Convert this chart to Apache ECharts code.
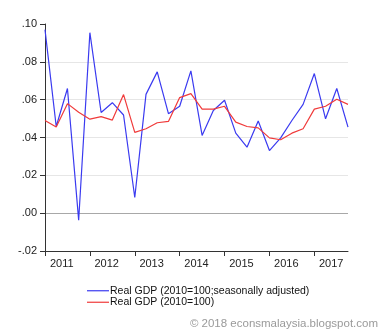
<!DOCTYPE html>
<html>
<head>
<meta charset="utf-8">
<script src="https://cdn.jsdelivr.net/npm/echarts@6/dist/echarts.min.js"></script>
<style>
html,body{margin:0;padding:0;background:#fff;}
#c{width:380px;height:332px;}
</style>
</head>
<body>
<div id="c"></div>
<script>
const quarters = ['2011Q1','2011Q2','2011Q3','2011Q4','2012Q1','2012Q2','2012Q3','2012Q4',
  '2013Q1','2013Q2','2013Q3','2013Q4','2014Q1','2014Q2','2014Q3','2014Q4',
  '2015Q1','2015Q2','2015Q3','2015Q4','2016Q1','2016Q2','2016Q3','2016Q4',
  '2017Q1','2017Q2','2017Q3','2017Q4'];
const years = ['2011','2012','2013','2014','2015','2016','2017'];
const seasAdj = [0.097, 0.0458, 0.0659, -0.0037, 0.0954, 0.0532, 0.0584, 0.0519,
  0.0083, 0.0628, 0.0747, 0.0526, 0.0565, 0.0752, 0.0411, 0.0543,
  0.0597, 0.0423, 0.0349, 0.0487, 0.0331, 0.0398, 0.0490, 0.0575,
  0.0738, 0.0499, 0.0659, 0.0455];
const realGdp = [0.049, 0.0455, 0.0579, 0.0534, 0.0497, 0.0510, 0.0492, 0.0627,
  0.0427, 0.0446, 0.0478, 0.0485, 0.0611, 0.0632, 0.0550, 0.0550,
  0.0565, 0.0481, 0.0458, 0.0451, 0.0398, 0.0388, 0.0423, 0.0446,
  0.0550, 0.0565, 0.0602, 0.0575];
const yTicks = [-0.02, 0, 0.02, 0.04, 0.06, 0.08, 0.10];

const toPairs = arr => arr.map((v, i) => [i, v]);
const yearStart = years.map((y, k) => k * 4);
const yearMid = years.map((y, k) => k * 4 + 1.5);

const chart = echarts.init(document.getElementById('c'), null, {renderer: 'canvas'});
chart.setOption({
  animation: false,
  backgroundColor: '#fff',
  grid: {left: 45, right: 32, top: 24, bottom: 81, containLabel: false},
  xAxis: {
    type: 'value',
    min: 0,
    max: quarters.length - 1,
    axisLine: {show: true, onZero: false, lineStyle: {color: '#333', width: 1}},
    axisTick: {show: true, length: 5, inside: false, customValues: yearStart, lineStyle: {color: '#333'}},
    axisLabel: {
      customValues: yearMid,
      formatter: v => years[Math.round((v - 1.5) / 4)] || '',
      color: '#222', fontSize: 11, fontFamily: 'Liberation Sans, Arial, sans-serif', margin: 7
    },
    splitLine: {show: false}
  },
  yAxis: {
    type: 'value',
    min: yTicks[0],
    max: yTicks[yTicks.length - 1],
    interval: 0.02,
    axisLine: {show: true, lineStyle: {color: '#333', width: 1}},
    axisTick: {show: true, length: 5, lineStyle: {color: '#333'}},
    axisLabel: {
      formatter: v => {
        const s = v.toFixed(2);
        return s.replace(/^(-?)0\./, '$1.');
      },
      color: '#222', fontSize: 11, fontFamily: 'Liberation Sans, Arial, sans-serif', margin: 8
    },
    splitLine: {show: true, lineStyle: {color: ['rgba(0,0,0,0)', '#a8a8a8', '#e6e6e6', '#e6e6e6', '#e6e6e6', '#e6e6e6', 'rgba(0,0,0,0)'], width: 1}}
  },
  legend: {
    orient: 'vertical',
    left: 87,
    top: 285,
    padding: 0,
    itemWidth: 22,
    itemHeight: 1.2,
    itemGap: 0,
    icon: 'rect',
    textStyle: {color: '#111', fontSize: 10.5, lineHeight: 11.5, fontFamily: 'Liberation Sans, Arial, sans-serif', padding: [0,0,0,-4]},
    data: ['Real GDP (2010=100;seasonally adjusted)', 'Real GDP (2010=100)']
  },
  graphic: [{
    type: 'text',
    right: 2,
    bottom: 2,
    style: {text: '\u00a9 2018 econsmalaysia.blogspot.com', fill: '#9a9a9a', font: '11.5px "Liberation Sans", Arial, sans-serif'}
  }],
  series: [
    {
      name: 'Real GDP (2010=100;seasonally adjusted)',
      type: 'line',
      data: toPairs(seasAdj),
      showSymbol: false,
      symbol: 'none',
      lineStyle: {color: '#3a3af0', width: 1.2},
      itemStyle: {color: '#3a3af0'}
    },
    {
      name: 'Real GDP (2010=100)',
      type: 'line',
      data: toPairs(realGdp),
      showSymbol: false,
      symbol: 'none',
      lineStyle: {color: '#f03a3a', width: 1.2},
      itemStyle: {color: '#f03a3a'}
    }
  ]
});
</script>
</body>
</html>
